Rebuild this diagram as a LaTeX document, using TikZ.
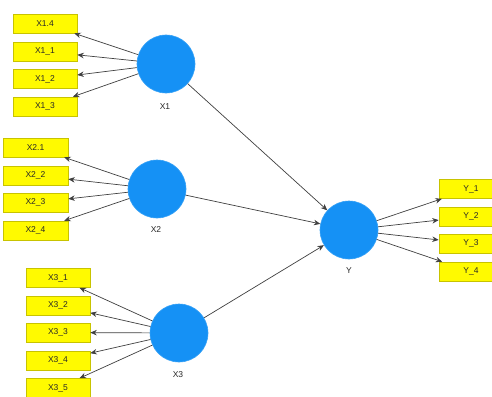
\documentclass[tikz,border=0pt]{standalone}
\usepackage{fontspec}
\setmainfont{Liberation Sans}
\usetikzlibrary{arrows.meta}
\definecolor{lvblue}{RGB}{21,145,245}
\definecolor{mvyellow}{RGB}{255,250,0}
\definecolor{mvborder}{RGB}{200,195,0}
\definecolor{txtgrey}{RGB}{40,40,40}
\tikzset{
  latent/.style={circle,fill=lvblue,draw=lvblue!85!white,line width=0.6pt,minimum size=58pt,inner sep=0pt},
  indic/.style={rectangle,fill=mvyellow,draw=mvborder,line width=0.6pt,minimum height=19pt,inner sep=0pt,font=\fontsize{8.5pt}{10pt}\selectfont,text=txtgrey},
  lvlabel/.style={font=\fontsize{8.5pt}{10pt}\selectfont,text=txtgrey,inner sep=0pt},
  link/.style={draw=black!75,line width=0.7pt,-{Stealth[length=6.5pt,width=5.5pt]}}
}
\begin{document}
\begin{tikzpicture}[x=1pt,y=-1pt]
\useasboundingbox (0,0) rectangle (492,396);
\clip (0,0) rectangle (492,396);
\fill[white] (0,0) rectangle (492,396);
% latent variables
\node[latent] (X1) at (166,64) {};
\node[latent] (X2) at (157,189) {};
\node[latent] (X3) at (179,333) {};
\node[latent] (Y) at (349,230) {};
\node[lvlabel] (lX1) at (165,107) {X1};
\node[lvlabel] (lX2) at (156,230) {X2};
\node[lvlabel] (lX3) at (178,375) {X3};
\node[lvlabel] (lY) at (349,271) {Y};
% indicators X1
\node[indic,minimum width=64pt] (x14) at (45,23.5) {X1.4};
\node[indic,minimum width=64pt] (x11) at (45,51.5) {X1\_1};
\node[indic,minimum width=64pt] (x12) at (45,79) {X1\_2};
\node[indic,minimum width=64pt] (x13) at (45,106.5) {X1\_3};
% indicators X2
\node[indic,minimum width=65pt] (x21) at (35.5,147.5) {X2.1};
\node[indic,minimum width=65pt] (x22) at (35.5,175.5) {X2\_2};
\node[indic,minimum width=65pt] (x23) at (35.5,202.5) {X2\_3};
\node[indic,minimum width=65pt] (x24) at (35.5,230.5) {X2\_4};
% indicators X3
\node[indic,minimum width=64pt] (x31) at (58,278) {X3\_1};
\node[indic,minimum width=64pt] (x32) at (58,305.5) {X3\_2};
\node[indic,minimum width=64pt] (x33) at (58,332.5) {X3\_3};
\node[indic,minimum width=64pt] (x34) at (58,360.5) {X3\_4};
\node[indic,minimum width=64pt] (x35) at (58,388) {X3\_5};
% indicators Y
\node[indic,minimum width=64pt] (y1) at (471,189) {Y\_1};
\node[indic,minimum width=64pt] (y2) at (471,216.5) {Y\_2};
\node[indic,minimum width=64pt] (y3) at (471,243.5) {Y\_3};
\node[indic,minimum width=64pt] (y4) at (471,271.5) {Y\_4};
% loadings
\foreach \t in {x14,x11,x12,x13} \draw[link] (X1) -- (\t);
\foreach \t in {x21,x22,x23,x24} \draw[link] (X2) -- (\t);
\foreach \t in {x31,x32,x33,x34,x35} \draw[link] (X3) -- (\t);
\foreach \t in {y1,y2,y3,y4} \draw[link] (Y) -- (\t);
% structural paths
\draw[link] (X1) -- (Y);
\draw[link] (X2) -- (Y);
\draw[link] (X3) -- (Y);
\end{tikzpicture}
\end{document}
